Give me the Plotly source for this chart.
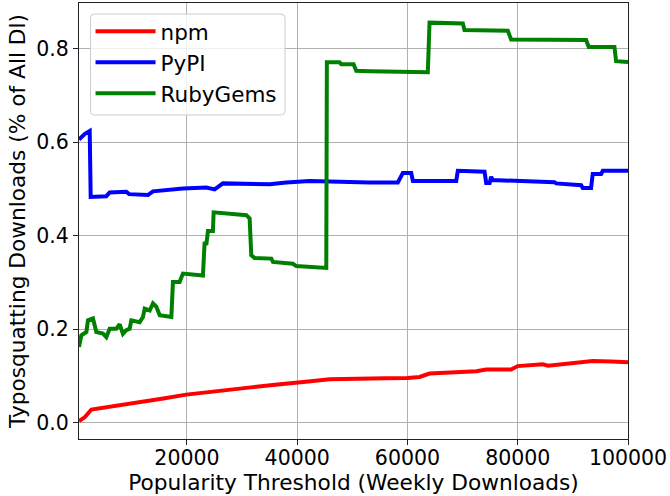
import plotly.graph_objects as go

# ---- data ----
npm_x = [420, 1500, 2660, 6000, 10820, 13000, 16000, 19880, 24000, 28950, 32000, 36000,
         40000, 42000, 45870, 49000, 53120, 56000, 60000, 62190, 64000, 68000, 72470,
         74280, 78800, 80000, 84540, 85500, 88000, 91800, 93600, 97000, 100000]
npm_y = [0.003, 0.012, 0.028, 0.034, 0.041, 0.046, 0.052, 0.060, 0.066, 0.073, 0.076, 0.081,
         0.087, 0.088, 0.093, 0.094, 0.096, 0.095, 0.0955, 0.0977, 0.105, 0.107, 0.110,
         0.1135, 0.1135, 0.121, 0.125, 0.122, 0.125, 0.128, 0.132, 0.131, 0.129]

pypi_x = [420, 1500, 2360, 2540, 5380, 5980, 9010, 9500, 12930, 13830, 19270, 23510, 25020,
          26530, 35000, 38020, 42240, 47680, 53120, 58250, 59160, 60680, 60990, 68840, 69140,
          73980, 74280, 74900, 75180, 75480, 81530, 86660, 86960, 91500, 91800, 93300, 93600,
          95120, 95420, 100000]
pypi_y = [0.606, 0.618, 0.624, 0.483, 0.4846, 0.4925, 0.494, 0.489, 0.487, 0.495, 0.501, 0.503,
          0.499, 0.512, 0.510, 0.514, 0.517, 0.515, 0.514, 0.514, 0.534, 0.534, 0.517, 0.517,
          0.539, 0.537, 0.513, 0.513, 0.526, 0.519, 0.516, 0.5146, 0.512, 0.508, 0.502, 0.502,
          0.532, 0.532, 0.539, 0.539]

ruby_x = [420, 850, 1760, 2050, 2950, 3570, 4770, 5380, 5980, 7190, 7800, 8390, 9010, 9610,
          9910, 11420, 12020, 12330, 13240, 13830, 14450, 15050, 17170, 17460, 18670, 19270,
          22900, 23210, 23510, 23810, 24710, 24840, 30770, 31370, 31670, 32270, 35300, 35600,
          39220, 39830, 45270, 45380, 47680, 47990, 50220, 50710, 53120, 62190, 63690, 64000,
          70040, 70340, 78200, 78800, 92400, 92880, 97540, 97840, 100000]
ruby_y = [0.162, 0.187, 0.194, 0.219, 0.223, 0.194, 0.1906, 0.183, 0.201, 0.201, 0.2105, 0.190,
          0.198, 0.201, 0.219, 0.215, 0.226, 0.244, 0.240, 0.255, 0.248, 0.230, 0.226, 0.301,
          0.301, 0.319, 0.315, 0.387, 0.380, 0.410, 0.410, 0.450, 0.444, 0.437, 0.358, 0.3525,
          0.351, 0.344, 0.340, 0.335, 0.331, 0.771, 0.771, 0.767, 0.767, 0.753, 0.752, 0.751,
          0.750, 0.856, 0.854, 0.840, 0.8385, 0.820, 0.8186, 0.804, 0.804, 0.7736, 0.772]

x_ticks = [20000, 40000, 60000, 80000, 100000]
y_ticks = [0.0, 0.2, 0.4, 0.6, 0.8]
x_range = [420, 100000]

FONT = "DejaVu Sans"
W, H = 670, 496
ML, MR, MT, MB = 79, 42, 3, 57
PW, PH = W - ML - MR, H - MT - MB


def px2paper(px, py):
    return (px - ML) / PW, 1 - (py - MT) / PH


fig = go.Figure()
for name, xs, ys, col in [("npm", npm_x, npm_y, "red"),
                          ("PyPI", pypi_x, pypi_y, "blue"),
                          ("RubyGems", ruby_x, ruby_y, "green")]:
    fig.add_trace(go.Scatter(x=xs, y=ys, mode="lines", name=name,
                             line=dict(color=col, width=4)))

common = dict(showline=True, linecolor="#222", linewidth=1.2, mirror=True,
              showgrid=True, gridcolor="#b0b0b0", gridwidth=1,
              tickcolor="#222", tickfont=dict(family=FONT, size=20.5, color="black"),
              zeroline=False)

# legend frame (rounded box), drawn in paper coordinates
bx0, by0 = px2paper(90.5, 14)
bx1, by1 = px2paper(285, 115)
rx, ry = 4 / PW, 4 / PH
path = (f"M{bx0+rx},{by0} L{bx1-rx},{by0} Q{bx1},{by0} {bx1},{by0-ry} "
        f"L{bx1},{by1+ry} Q{bx1},{by1} {bx1-rx},{by1} "
        f"L{bx0+rx},{by1} Q{bx0},{by1} {bx0},{by1+ry} "
        f"L{bx0},{by0-ry} Q{bx0},{by0} {bx0+rx},{by0} Z")

fig.update_layout(
    width=W, height=H,
    margin=dict(l=ML, r=MR, t=MT, b=MB),
    paper_bgcolor="white", plot_bgcolor="white",
    font=dict(family=FONT, size=20, color="black"),
    xaxis=dict(range=x_range, tickvals=x_ticks,
               ticktext=[str(v) for v in x_ticks],
               ticks="", ticklen=0,
               title=dict(text="Popularity Threshold (Weekly Downloads)",
                          font=dict(family=FONT, size=21.7), standoff=1),
               **common),
    # companion axis that only draws the outward tick marks on the bottom axis
    xaxis2=dict(range=x_range, overlaying="x", side="bottom", tickvals=x_ticks,
                ticks="outside", ticklen=5, tickcolor="#222", tickwidth=1,
                showticklabels=False, showgrid=False, showline=False, zeroline=False),
    yaxis=dict(range=[-0.035, 0.898], tickvals=y_ticks,
               ticktext=[f"{v:.1f}" for v in y_ticks],
               ticks="outside", ticklen=5,
               title=dict(text="Typosquatting Downloads (% of All Dl)",
                          font=dict(family=FONT, size=21.7), standoff=4),
               **common),
    shapes=[dict(type="path", xref="paper", yref="paper", path=path,
                 fillcolor="rgba(255,255,255,0.8)", line=dict(color="#cccccc", width=1),
                 layer="above")],
    legend=dict(x=0.021, y=0.982, xanchor="left", yanchor="top",
                bgcolor="rgba(0,0,0,0)", borderwidth=0,
                font=dict(family=FONT, size=21.5), itemwidth=60,
                tracegroupgap=0),
    showlegend=True,
)

# invisible trace so the tick-mark axis is rendered
fig.add_trace(go.Scatter(x=[x_range[0]], y=[y_ticks[0]], xaxis="x2", mode="markers",
                         marker=dict(opacity=0), showlegend=False, hoverinfo="skip"))

fig.write_html("out.html")
